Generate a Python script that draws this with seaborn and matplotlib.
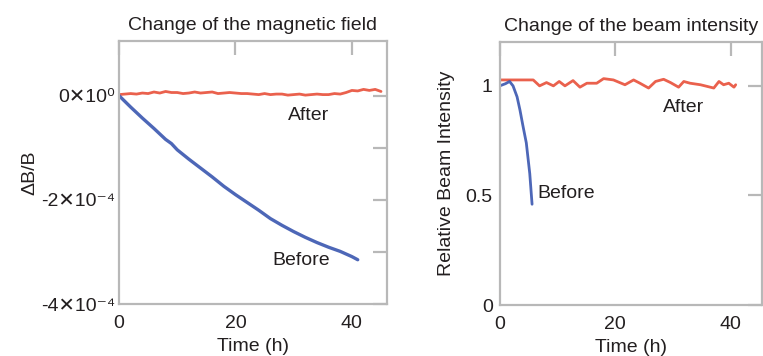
import matplotlib
matplotlib.use("Agg")
import matplotlib.pyplot as plt
import seaborn as sns
import numpy as np

# data
# left panel: Delta B / B in units of 1e-4
t_field_after = [0, 1, 2, 3, 4, 5, 6, 7, 8, 9, 10, 11, 12, 13, 14, 15, 16, 17, 18, 19,
                 20, 21, 22, 23, 24, 25, 26, 27, 28, 29, 30, 31, 32, 33, 34, 35, 36, 37,
                 38, 39, 40, 41, 42, 43, 44, 45]
field_after = [0.02, 0.03, 0.04, 0.03, 0.05, 0.04, 0.07, 0.05, 0.08, 0.06, 0.06, 0.04,
               0.05, 0.07, 0.05, 0.06, 0.07, 0.04, 0.05, 0.06, 0.05, 0.04, 0.04, 0.03,
               0.02, 0.04, 0.02, 0.03, 0.03, 0.01, 0.02, 0.03, 0.01, 0.02, 0.03, 0.02,
               0.02, 0.04, 0.03, 0.06, 0.10, 0.09, 0.12, 0.10, 0.12, 0.08]
t_field_before = [0, 2, 4, 6, 8, 9, 10, 12, 14, 16, 18, 20, 22, 24, 26, 28, 30, 32, 34,
                  36, 38, 40, 41]
field_before = [0.0, -0.22, -0.43, -0.63, -0.84, -0.92, -1.04, -1.22, -1.39, -1.56,
                -1.74, -1.90, -2.05, -2.20, -2.36, -2.49, -2.61, -2.72, -2.82, -2.91,
                -2.99, -3.09, -3.15]
field_ticks = [-4e-4, -3e-4, -2e-4, -1e-4, 0]
field_labels = ["-4✕10⁻⁴", "", "-2✕10⁻⁴", "", "0✕10⁰"]

# right panel: relative beam intensity
t_beam_after = [0, 5.8, 6.9, 8.1, 9.3, 10.3, 11.3, 12.7, 13.9, 15.1, 16.8, 18.0, 19.7,
                21.7, 23.2, 24.3, 25.8, 27.0, 28.4, 29.6, 31.0, 31.9, 33.0, 34.8, 37.1,
                38.0, 38.8, 39.7, 40.6, 40.9]
beam_after = [1.027, 1.027, 1.0, 1.015, 1.0, 1.02, 1.0, 1.024, 0.994, 1.012, 1.012,
              1.033, 1.027, 1.005, 1.027, 1.012, 0.99, 1.02, 1.03, 1.015, 0.994, 1.02,
              1.012, 1.005, 0.99, 1.02, 1.005, 1.012, 0.994, 1.005]
t_beam_before = [0, 1.0, 1.7, 2.3, 3.0, 3.5, 4.0, 4.6, 5.2, 5.6]
beam_before = [1.0, 1.01, 1.02, 1.0, 0.95, 0.89, 0.82, 0.74, 0.60, 0.46]

red = "#e8503a"
blue = "#3a56b0"
grey = "#b8b8b8"
ink = "#231f20"

sns.set_theme(style="white")
plt.rcParams["font.family"] = ["Liberation Sans", "DejaVu Sans"]
plt.rcParams["text.color"] = ink
plt.rcParams["axes.labelcolor"] = ink

fig = plt.figure(figsize=(7.63, 3.56), dpi=100)
ax1 = fig.add_axes([0.156, 0.146, 0.351, 0.739])
ax2 = fig.add_axes([0.655, 0.143, 0.344, 0.739])

fs = 14

def style_axes(ax):
    for s in ax.spines.values():
        s.set_color(grey)
        s.set_linewidth(1.6)
        s.set_visible(True)
    ax.tick_params(direction="in", length=10, width=1.6, color=grey,
                   top=True, right=True, labelsize=fs, labelcolor=ink)
    ax.tick_params(axis="x", pad=8)

# left: magnetic field
sns.lineplot(x=np.array(t_field_after), y=np.array(field_after) * 1e-4, ax=ax1,
             color=red, lw=2.0, alpha=0.9)
sns.lineplot(x=np.array(t_field_before), y=np.array(field_before) * 1e-4, ax=ax1,
             color=blue, lw=2.4, alpha=0.9)
ax1.set_xlim(0, 46)
ax1.set_ylim(-4e-4, 1.05e-4)
ax1.set_xticks([0, 20, 40])
ax1.set_yticks(field_ticks)
ax1.set_yticklabels(field_labels)
style_axes(ax1)
ax1.tick_params(axis="y", pad=3)
ax1.set_title("Change of the magnetic field", fontsize=fs, pad=8)
ax1.set_xlabel("Time (h)", fontsize=fs, labelpad=4)
ax1.set_ylabel("ΔB/B", fontsize=fs, labelpad=2)
ax1.text(29, -0.38e-4, "After", fontsize=fs, va="center")
ax1.text(26.3, -3.16e-4, "Before", fontsize=fs, va="center")

# right: beam intensity
sns.lineplot(x=t_beam_after, y=beam_after, ax=ax2, color=red, lw=2.0, alpha=0.9)
sns.lineplot(x=t_beam_before, y=beam_before, ax=ax2, color=blue, lw=2.0, alpha=0.9)
ax2.set_xlim(0, 45.5)
ax2.set_ylim(0, 1.2)
ax2.set_xticks([0, 20, 40])
ax2.set_yticks([0, 0.5, 1])
ax2.set_yticklabels(["0", "0.5", "1"])
style_axes(ax2)
ax2.tick_params(axis="y", pad=5)
ax2.set_title("Change of the beam intensity", fontsize=fs, pad=8)
ax2.set_xlabel("Time (h)", fontsize=fs, labelpad=4)
ax2.set_ylabel("Relative Beam Intensity", fontsize=fs, labelpad=8)
ax2.text(28.3, 0.90, "After", fontsize=fs, va="center")
ax2.text(6.6, 0.51, "Before", fontsize=fs, va="center")

fig.savefig("out.png", dpi=100)
